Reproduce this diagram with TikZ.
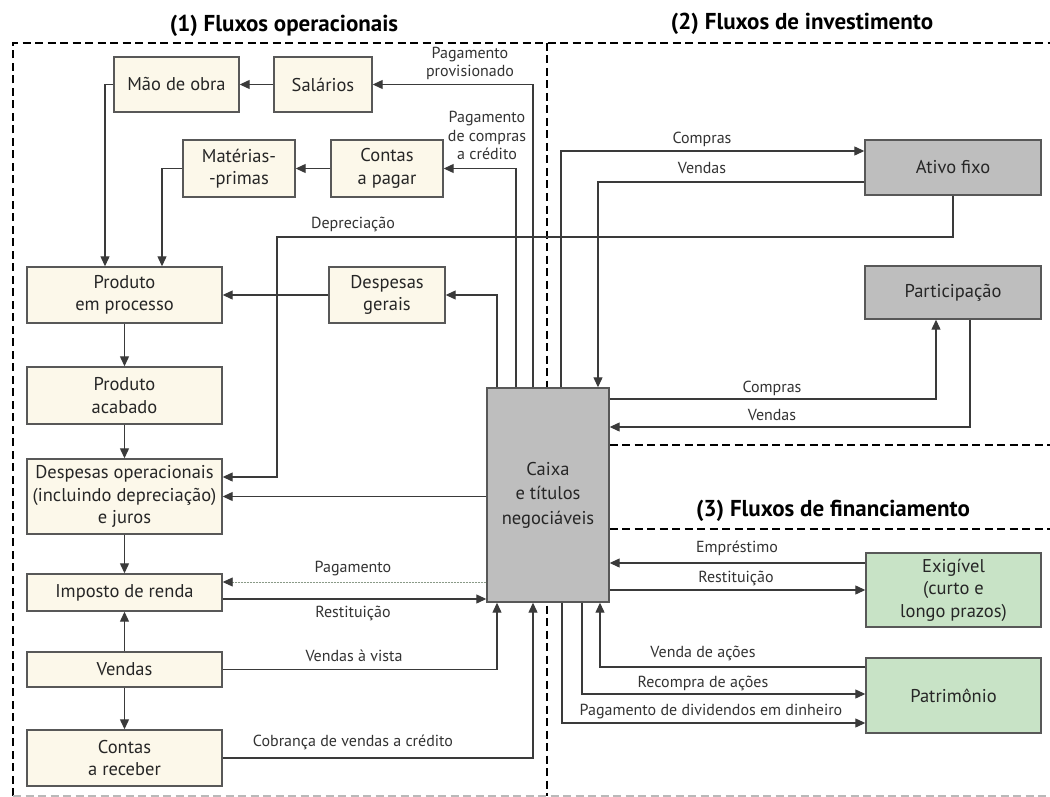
\documentclass[tikz,border=0pt]{standalone}
\usepackage{fontspec}
\setmainfont{PT Sans}
\usetikzlibrary{arrows.meta}
\definecolor{cream}{HTML}{FCF8EA}
\definecolor{boxgray}{HTML}{BEBEBE}
\definecolor{boxgreen}{HTML}{C8E3C6}
\definecolor{linec}{HTML}{3A3A3A}
\definecolor{payline}{HTML}{8A9A88}
\begin{document}
\begin{tikzpicture}[x=1pt,y=-1pt,
  box/.style={draw=linec!85, line width=1.4pt, fill=cream, inner sep=0pt, align=center, font=\fontsize{18.5}{22.5}\selectfont, text=black!85},
  graybox/.style={box, fill=boxgray},
  greenbox/.style={box, fill=boxgreen},
  arr/.style={draw=linec, line width=1.2pt, -{Triangle[length=10pt,width=9pt]}},
  thinarr/.style={draw=payline, line width=0.9pt, dash pattern=on 2pt off 1pt, -{Triangle[length=10pt,width=9pt,color=linec]}},
  lbl/.style={font=\fontsize{16}{18.5}\selectfont, text=black!80, inner sep=0pt, align=center},
  ttl/.style={font=\fontsize{23}{26}\selectfont\bfseries, inner sep=0pt},
  frame/.style={line width=2.2pt, dash pattern=on 8pt off 4.5pt},
  lightframe/.style={frame, draw=gray!55}
]
\useasboundingbox (0,0) rectangle (1050,797);
\fill[white] (0,0) rectangle (1050,797);

% titles
\node[ttl] (t1) at (284,26) {(1) Fluxos operacionais};
\node[ttl] (t2) at (802,24) {(2) Fluxos de investimento};
\node[ttl] (t3) at (833,511) {(3) Fluxos de financiamento};

% dashed frames
\draw[frame] (13,796) -- (13,43) -- (1050,43);
\draw[frame] (547,43) -- (547,796);
\draw[frame] (547,445) -- (1050,445);
\draw[frame] (547,529) -- (1050,529);
\draw[lightframe] (13,796) -- (1050,796);

% boxes
\node[box, minimum width=125pt, minimum height=55pt] (mao) at (176.5,84.5) {Mão de obra};
\node[box, minimum width=98pt, minimum height=55pt] (sal) at (323,84.5) {Salários};
\node[box, minimum width=112pt, minimum height=57pt] (mat) at (239,168.5) {Matérias-\\-primas};
\node[box, minimum width=112pt, minimum height=57pt] (cpag) at (387,168.5) {Contas\\a pagar};
\node[box, minimum width=195pt, minimum height=56pt] (pep) at (124.5,295) {Produto\\em processo};
\node[box, minimum width=116pt, minimum height=56pt] (dg) at (387,295) {Despesas\\gerais};
\node[box, minimum width=195pt, minimum height=57pt] (pac) at (124.5,395.5) {Produto\\acabado};
\node[box, minimum width=195pt, minimum height=75pt] (dop) at (124.5,496.5) {Despesas operacionais\\(incluindo depreciação)\\e juros};
\node[box, minimum width=195pt, minimum height=37pt] (imp) at (124.5,592.5) {Imposto de renda};
\node[box, minimum width=195pt, minimum height=35pt] (ven) at (124.5,669.5) {Vendas};
\node[box, minimum width=195pt, minimum height=56pt] (crec) at (124.5,758) {Contas\\a receber};
\node[graybox, minimum width=122pt, minimum height=214pt, font=\fontsize{18.5}{24.5}\selectfont] (caixa) at (548,495) {Caixa\\e títulos\\negociáveis};
\node[graybox, minimum width=176pt, minimum height=55pt] (ativo) at (953,167.5) {Ativo fixo};
\node[graybox, minimum width=176pt, minimum height=53pt] (part) at (953,292.5) {Participação};
\node[greenbox, minimum width=175pt, minimum height=74pt] (exig) at (953.5,590) {Exigível\\(curto e\\longo prazos)};
\node[greenbox, minimum width=175pt, minimum height=75pt] (patr) at (953.5,695.5) {Patrimônio};

% operational flows
\draw[arr] (sal.west) -- (mao.east);
\draw[arr] (cpag.west) -- (mat.east);
\draw[arr] (caixa.north -| 533,0) |- (sal.east);
\draw[arr] (caixa.north -| 516,0) |- (cpag.east);
\draw[arr] (caixa.north -| 497,0) |- (dg.east);
\draw[arr] (dg.west) -- (pep.east |- dg.west);
\draw[arr] (mao.west) -| (pep.north -| 105,0);
\draw[arr] (mat.west) -| (pep.north -| 162,0);
\draw[arr] (ativo.south) -- (ativo.south |- 0,237) -- (277,237) -- (277,477) -- (dop.east |- 0,477);
\draw[arr] (pep.south) -- (pac.north);
\draw[arr] (pac.south) -- (dop.north);
\draw[arr] (dop.south) -- (imp.north);
\draw[arr] (caixa.west |- dop.east) -- (dop.east);
\draw[thinarr] (caixa.west |- 0,582) -- (imp.east |- 0,582);
\draw[arr] (imp.east |- 0,599) -- (caixa.west |- 0,599);
\draw[arr] (ven.north) -- (imp.south);
\draw[arr] (ven.south) -- (crec.north);
\draw[arr] (ven.east) -| (caixa.south -| 497,0);
\draw[arr] (crec.east) -| (caixa.south -| 533,0);

% investment flows
\draw[arr] (caixa.north -| 561,0) |- (ativo.west |- 0,151);
\draw[arr] (ativo.west |- 0,182) -| (caixa.north -| 598,0);
\draw[arr] (caixa.east |- 0,399) -| (part.south -| 936,0);
\draw[arr] (part.south -| 970,0) |- (caixa.east |- 0,427);

% financing flows
\draw[arr] (exig.west |- 0,563) -- (caixa.east |- 0,563);
\draw[arr] (caixa.east |- exig.west) -- (exig.west);
\draw[arr] (patr.west |- 0,667) -| (caixa.south -| 600,0);
\draw[arr] (caixa.south -| 582,0) |- (patr.west |- 0,694);
\draw[arr] (caixa.south -| 562,0) |- (patr.west |- 0,723);

% labels
\node[lbl] (l1) at (470,63.5) {Pagamento\\provisionado};
\node[lbl] (l2) at (487,135.5) {Pagamento\\de compras\\a crédito};
\node[lbl] (l3) at (353,224) {Depreciação};
\node[lbl] (l4) at (353,569) {Pagamento};
\node[lbl] (l5) at (353,613) {Restituição};
\node[lbl] (l6) at (354,656) {Vendas à vista};
\node[lbl] (l7) at (353,742) {Cobrança de vendas a crédito};
\node[lbl] (l8) at (702,139) {Compras};
\node[lbl] (l9) at (702,168) {Vendas};
\node[lbl] (l10) at (772,388) {Compras};
\node[lbl] (l11) at (772,415) {Vendas};
\node[lbl] (l12) at (737,548) {Empréstimo};
\node[lbl] (l13) at (736,578) {Restituição};
\node[lbl] (l14) at (703,653) {Venda de ações};
\node[lbl] (l15) at (703,683) {Recompra de ações};
\node[lbl] (l16) at (711,712) {Pagamento de dividendos em dinheiro};
\end{tikzpicture}
\end{document}
